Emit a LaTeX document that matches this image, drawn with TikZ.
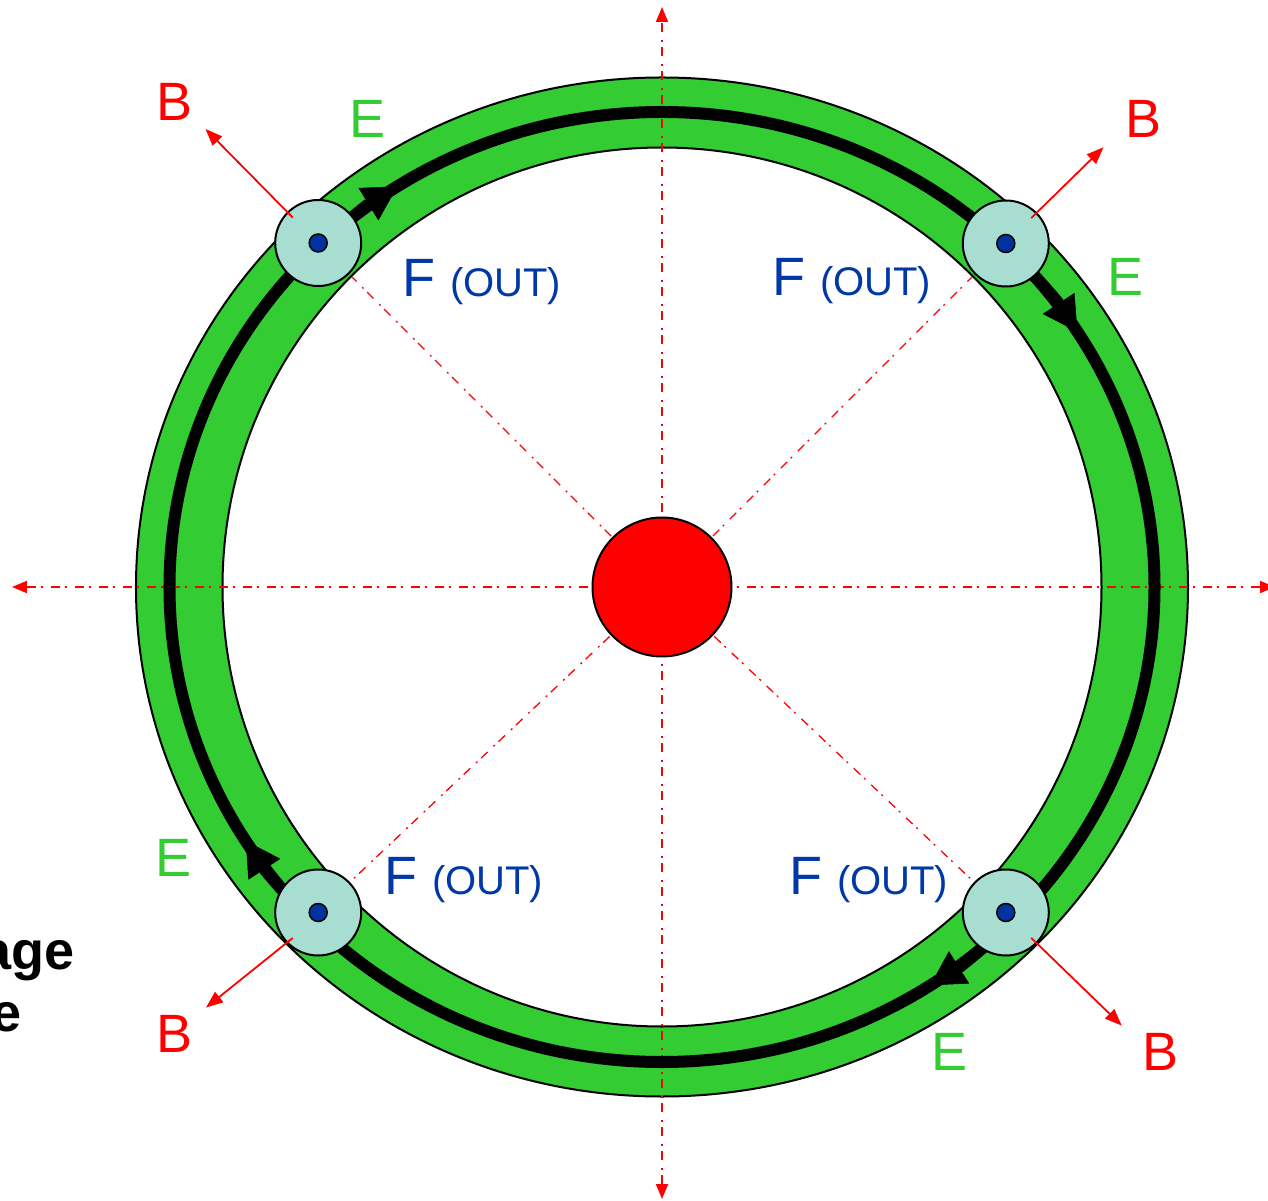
\documentclass[tikz,border=0pt]{standalone}
\usepackage{fontspec}
\setmainfont{Liberation Sans}
\usetikzlibrary{arrows.meta, calc}
\definecolor{ring}{HTML}{33CC33}
\definecolor{roller}{HTML}{A8DDD2}
\definecolor{axleblue}{HTML}{0033A0}
\definecolor{fblue}{HTML}{0038A8}
\newcommand{\outsz}{\fontsize{40}{48}\selectfont}

\begin{document}
\begin{tikzpicture}[x=1pt, y=1pt,
  axis/.style={red, line width=1.8pt, dash pattern=on 9pt off 5pt on 2pt off 8pt,
               {Triangle[length=15pt,width=12pt]}-{Triangle[length=15pt,width=12pt]}},
  ray/.style={red, line width=1.3pt, dash pattern=on 9pt off 5pt on 2pt off 8pt},
  roll/.style={circle, draw, line width=2pt, fill=roller, minimum size=86pt, inner sep=0pt},
  axle/.style={circle, draw, line width=1.5pt, fill=axleblue, minimum size=18pt, inner sep=0pt},
  field/.style={red, line width=1.8pt, -{Triangle[length=17pt,width=13pt]}},
  flow/.style={line width=12pt, -{Triangle[length=34pt,width=38pt,line width=0.5pt]}},
  lblB/.style={text=red, font=\fontsize{54}{60}\selectfont, inner sep=0pt},
  lblE/.style={text=ring, font=\fontsize{54}{60}\selectfont, inner sep=0pt},
  lblF/.style={text=fblue, font=\fontsize{54}{60}\selectfont, inner sep=0pt, anchor=base west}]
  \fill[white] (-662,-614) rectangle (606,587);
  \useasboundingbox (-662,-614) rectangle (606,587);
  \coordinate (hub) at (0,0);
  \draw[fill=ring, line width=2pt] (hub) ellipse [x radius=526, y radius=509.5];
  \draw[fill=white, line width=2pt] (hub) circle [radius=439.5];
  \coordinate (axW) at (-650,0);
  \coordinate (axE) at (613,0);
  \coordinate (axN) at (0,580);
  \coordinate (axS) at (0,-612);
  \draw[axis] (axW) -- (axE);
  \draw[axis] (axS) -- (axN);
  \foreach \ang in {135,45,223.4,-43.4}
    \draw[ray] (hub) -- (\ang:438);
  \draw[line width=12pt] (hub) ellipse [x radius=492.5, y radius=475];
  \foreach \a/\b in {134/122.5, 45.5/32.5, -44.5/-57, 224.5/212.3}
    \draw[flow] (\a:492.5 and 475) arc[start angle=\a, end angle=\b, x radius=492.5, y radius=475];
  \node[roll] (tl) at (-343.8,344) {};
  \node[roll] (tr) at (343.8,343.5) {};
  \node[roll] (bl) at (-343.8,-325.5) {};
  \node[roll] (br) at (343.8,-325.5) {};
  \foreach \r in {tl,tr,bl,br}
    \node[axle] (\r-axle) at (\r) {};
  \node[circle, draw, line width=2pt, fill=red, minimum size=139pt, inner sep=0pt] (sun) at (hub) {};
  \coordinate (tlB) at (-456.5,458);
  \coordinate (trB) at (441.5,439.7);
  \coordinate (blB) at (-456,-420.6);
  \coordinate (brB) at (459.8,-438.6);
  \draw[field] ($(tl)+(135:36)$) -- (tlB);
  \draw[field] ($(tr)+(45:36)$) -- (trB);
  \draw[field] ($(bl)+(225:36)$) -- (blB);
  \draw[field] ($(br)+(-45:36)$) -- (brB);
  \node[lblB] (tlBl) at (-487.5,485) {B};
  \node[lblB] (trBl) at (481.7,467.7) {B};
  \node[lblB] (blBl) at (-487.7,-447) {B};
  \node[lblB] (brBl) at (499,-464.6) {B};
  \node[lblE] (tlE) at (-294.5,468) {E};
  \node[lblE] (trE) at (464,310) {E};
  \node[lblE] (blE) at (-488,-271) {E};
  \node[lblE] (brE) at (287.5,-464.6) {E};
  \node[lblF] (tlF) at (-260,290) {F \outsz(OUT)};
  \node[lblF] (trF) at (110,291) {F \outsz(OUT)};
  \node[lblF] (blF) at (-278,-307.7) {F \outsz(OUT)};
  \node[lblF] (brF) at (127,-307.7) {F \outsz(OUT)};
  \node[font=\fontsize{54}{60}\selectfont\bfseries, inner sep=0pt, anchor=base east] (cut1) at (-587.5,-382.3) {age};
  \node[font=\fontsize{54}{60}\selectfont\bfseries, inner sep=0pt, anchor=base east] (cut2) at (-640,-444.7) {e};
\end{tikzpicture}
\end{document}
